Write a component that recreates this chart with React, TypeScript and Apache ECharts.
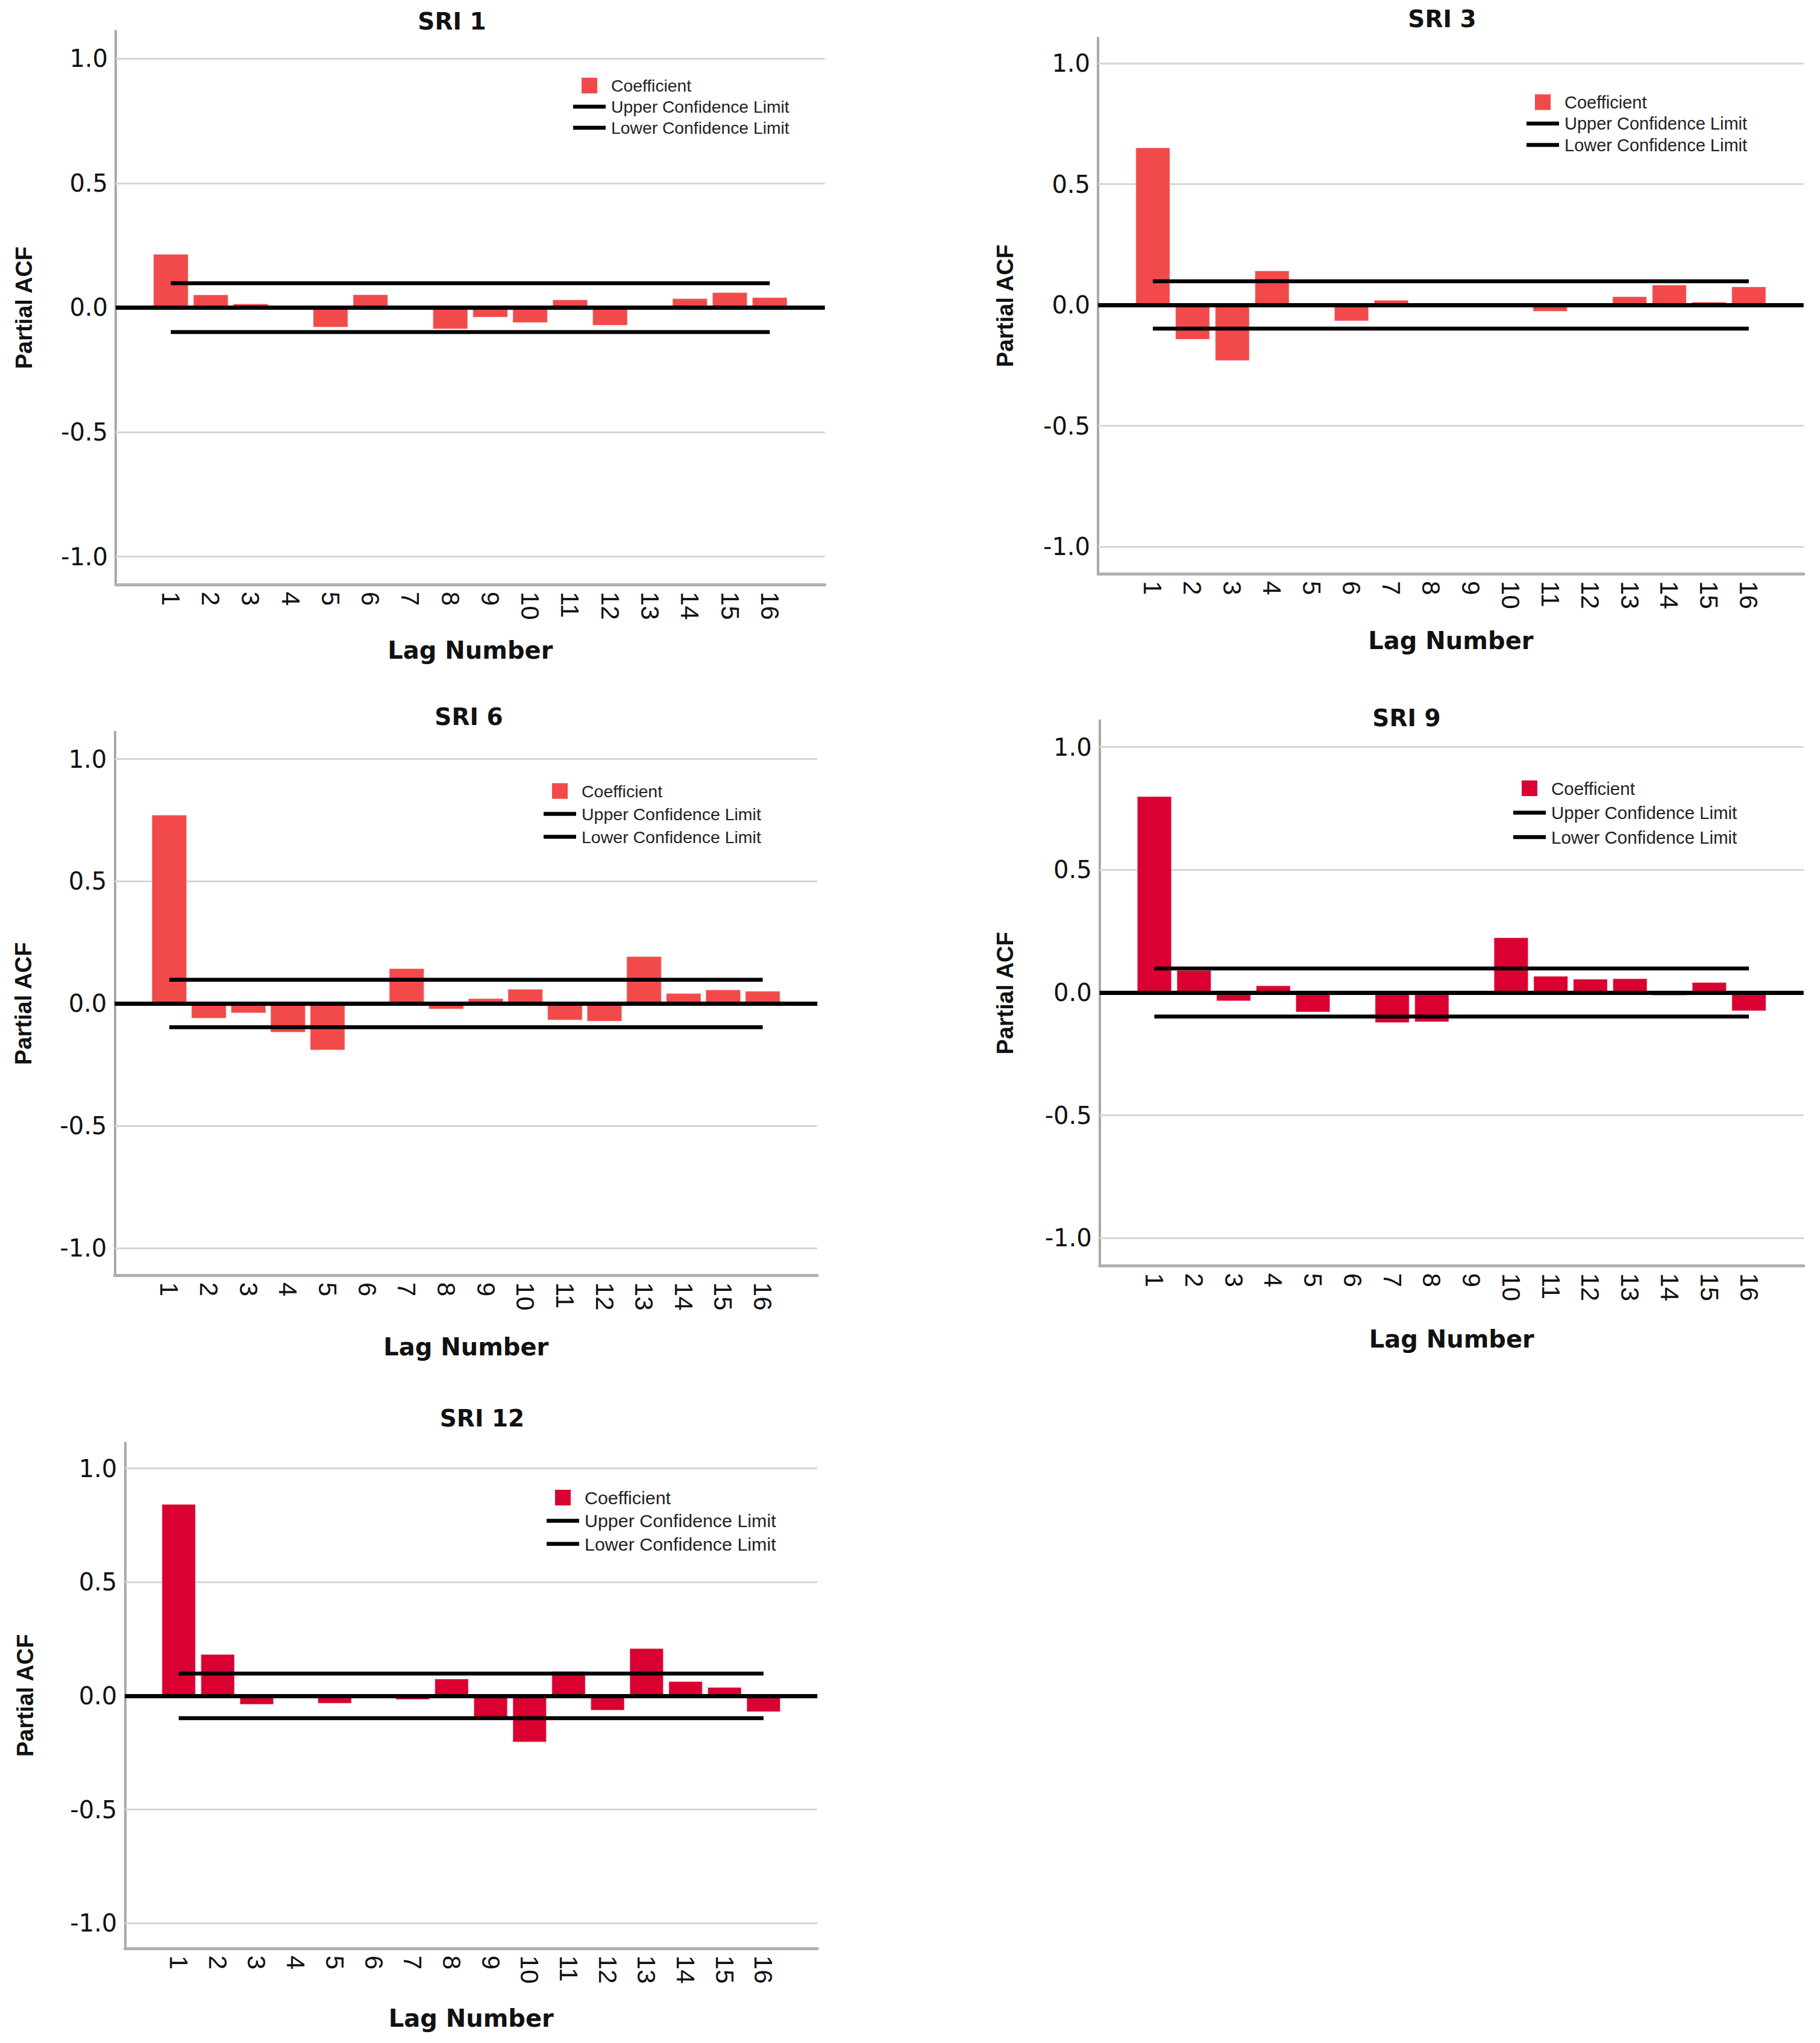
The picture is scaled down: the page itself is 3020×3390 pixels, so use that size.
import React, { useEffect, useRef } from 'react';
import * as echarts from 'echarts';

// ---------- data ----------
const lags = [1, 2, 3, 4, 5, 6, 7, 8, 9, 10, 11, 12, 13, 14, 15, 16];
const yTickValues = [-1, -0.5, 0, 0.5, 1];

const sri1Pacf = [0.216, 0.053, 0.017, 0.010, -0.080, 0.054, 0.009, -0.087, -0.040, -0.062, 0.033, -0.073, 0.003, 0.038, 0.062, 0.042];
const sri3Pacf = [0.652, -0.144, -0.232, 0.143, -0.002, -0.068, 0.021, -0.003, -0.008, -0.008, -0.028, 0.002, 0.036, 0.084, 0.014, 0.077];
const sri6Pacf = [0.773, -0.062, -0.040, -0.119, -0.192, 0.002, 0.145, -0.024, 0.022, 0.060, -0.069, -0.074, 0.194, 0.043, 0.058, 0.052];
const sri9Pacf = [0.800, 0.092, -0.036, 0.029, -0.081, 0.005, -0.124, -0.121, -0.003, 0.225, 0.068, 0.056, 0.058, -0.013, 0.043, -0.076];
const sri12Pacf = [0.844, 0.184, -0.039, 0.003, -0.035, 0.001, -0.018, 0.076, -0.096, -0.205, 0.109, -0.065, 0.210, 0.065, 0.039, -0.072];

const panelTitles = ['SRI 1', 'SRI 3', 'SRI 6', 'SRI 9', 'SRI 12'];
const panelValues = [sri1Pacf, sri3Pacf, sri6Pacf, sri9Pacf, sri12Pacf];
const confidenceLimits = [0.098, 0.098, 0.097, 0.098, 0.098];

// ---------- styles / layout ----------
const LIGHT_RED = '#F24A4A';
const CRIMSON = '#DA0032';
const panelColors = [LIGHT_RED, LIGHT_RED, LIGHT_RED, CRIMSON, CRIMSON];

const layouts = [
  { left: 192, top: 51.5, width: 1176.7, height: 918.3, yMin: -1.112, yMax: 1.111, barWidth: 59,
    titleX: 750, titleTop: 16, legendLeft: 951, legendTop: 128, legendGap: 7, legendFont: 28.3,
    yNameGap: 133, xNameGap: 89 },
  { left: 1822, top: 62.9, width: 1170.8, height: 889.1, yMin: -1.112, yMax: 1.105, barWidth: 58,
    titleX: 2393, titleTop: 12, legendLeft: 2533, legendTop: 155, legendGap: 6.5, legendFont: 29,
    yNameGap: 135, xNameGap: 91 },
  { left: 190.3, top: 1214.6, width: 1165.9, height: 901.2, yMin: -1.111, yMax: 1.111, barWidth: 59,
    titleX: 778, titleTop: 1170, legendLeft: 902, legendTop: 1298, legendGap: 9, legendFont: 28.5,
    yNameGap: 132, xNameGap: 99 },
  { left: 1824.7, top: 1195.5, width: 1168.1, height: 904.9, yMin: -1.113, yMax: 1.108, barWidth: 58,
    titleX: 2334, titleTop: 1172, legendLeft: 2511, legendTop: 1293, legendGap: 10.5, legendFont: 29.5,
    yNameGap: 138, xNameGap: 102 },
  { left: 207.3, top: 2393.9, width: 1148.9, height: 838.9, yMin: -1.11, yMax: 1.113, barWidth: 57,
    titleX: 800, titleTop: 2334, legendLeft: 907, legendTop: 2470, legendGap: 8.4, legendFont: 30.4,
    yNameGap: 146, xNameGap: 96 },
];

const X_MIN = -0.38;
const X_MAX = 17.38;

const SQUARE_ICON = 'path://M0,0h0.01v0.01h-0.01zM14,0h26v26h-26zM53.99,25.99h0.01v0.01h-0.01z';
const LINE_ICON = 'path://M0,0h0.01v0.01h-0.01zM0,9.75h54v6.5h-54zM53.99,25.99h0.01v0.01h-0.01z';

function buildOption() {
  const title: any[] = [];
  const legend: any[] = [];
  const grid: any[] = [];
  const xAxis: any[] = [];
  const yAxis: any[] = [];
  const series: any[] = [];

  panelTitles.forEach((name, i) => {
    const L = layouts[i];
    const values = panelValues[i];
    const conf = confidenceLimits[i];
    const color = panelColors[i];

    title.push({
      text: name,
      left: L.titleX,
      top: L.titleTop,
      textAlign: 'center',
      padding: 0,
      textStyle: { fontFamily: 'DejaVu Sans', fontWeight: 'bold', fontSize: 39, color: '#111' },
    });

    legend.push({
      orient: 'vertical',
      left: L.legendLeft,
      top: L.legendTop,
      padding: 0,
      itemWidth: 54,
      itemHeight: 26,
      itemGap: L.legendGap,
      selectedMode: false,
      itemStyle: { borderWidth: 0 },
      data: [
        { name: `Coefficient#${i}`, icon: SQUARE_ICON },
        { name: `Upper Confidence Limit#${i}`, icon: LINE_ICON },
        { name: `Lower Confidence Limit#${i}`, icon: LINE_ICON },
      ],
      formatter: (n: string) => n.split('#')[0],
      textStyle: {
        fontFamily: 'Liberation Sans',
        fontSize: L.legendFont,
        color: '#222',
        lineHeight: 26,
        padding: [0, 0, 0, 4],
      },
    });

    grid.push({ left: L.left, top: L.top, width: L.width, height: L.height, containLabel: false });

    xAxis.push({
      type: 'value',
      gridIndex: i,
      min: X_MIN,
      max: X_MAX,
      name: 'Lag Number',
      nameLocation: 'middle',
      nameGap: L.xNameGap,
      nameTextStyle: { fontFamily: 'DejaVu Sans', fontWeight: 'bold', fontSize: 40, color: '#111' },
      axisLine: { show: true, onZero: false, lineStyle: { color: '#b0b0b0', width: 5 } },
      axisTick: { show: false },
      splitLine: { show: false },
      axisLabel: {
        customValues: lags,
        rotate: -90,
        margin: 12,
        fontFamily: 'Liberation Sans',
        fontSize: 42,
        color: '#111',
        formatter: (v: number) => String(v),
      },
    });

    yAxis.push({
      type: 'value',
      gridIndex: i,
      min: L.yMin,
      max: L.yMax,
      name: 'Partial ACF',
      nameLocation: 'middle',
      nameGap: L.yNameGap,
      nameTextStyle: { fontFamily: 'Liberation Sans', fontWeight: 'bold', fontSize: 38, color: '#111' },
      axisLine: { show: true, onZero: false, lineStyle: { color: '#a8a8a8', width: 4 } },
      axisTick: { show: false },
      splitLine: { show: false },
      axisLabel: {
        customValues: yTickValues,
        margin: 13,
        fontFamily: 'DejaVu Sans',
        fontSize: 40,
        color: '#111',
        formatter: (v: number) => v.toFixed(1),
      },
    });

    series.push({
      type: 'bar',
      name: `Coefficient#${i}`,
      xAxisIndex: i,
      yAxisIndex: i,
      barWidth: L.barWidth,
      itemStyle: { color, borderColor: 'rgba(255,255,255,0.35)', borderWidth: 1.5 },
      data: lags.map((lag, k) => [lag, values[k]]),
      z: 2,
      markLine: {
        silent: true,
        symbol: 'none',
        z: 1,
        label: { show: false },
        lineStyle: { color: '#d6d6d6', width: 3, type: 'solid' },
        emphasis: { disabled: true },
        data: yTickValues.map((v) => ({ yAxis: v })),
      },
    });

    series.push({
      type: 'line',
      name: `Upper Confidence Limit#${i}`,
      xAxisIndex: i,
      yAxisIndex: i,
      symbol: 'none',
      itemStyle: { color: '#000' },
      lineStyle: { color: '#000', width: 6.5, cap: 'butt' },
      data: lags.map((lag) => [lag, conf]),
      z: 3,
      markLine: {
        silent: true,
        symbol: 'none',
        z: 6,
        label: { show: false },
        lineStyle: { color: '#000', width: 7, type: 'solid' },
        emphasis: { disabled: true },
        data: [{ yAxis: 0 }],
      },
    });

    series.push({
      type: 'line',
      name: `Lower Confidence Limit#${i}`,
      xAxisIndex: i,
      yAxisIndex: i,
      symbol: 'none',
      itemStyle: { color: '#000' },
      lineStyle: { color: '#000', width: 6.5, cap: 'butt' },
      data: lags.map((lag) => [lag, -conf]),
      z: 3,
    });
  });

  return {
    animation: false,
    backgroundColor: '#ffffff',
    title,
    legend,
    grid,
    xAxis,
    yAxis,
    series,
  };
}

export default function App() {
  const ref = useRef<HTMLDivElement>(null);
  useEffect(() => {
    document.body.style.margin = '0';
    const chart = echarts.init(ref.current as HTMLDivElement, null, {
      renderer: 'svg',
      width: 3020,
      height: 3390,
    });
    chart.setOption(buildOption() as any);
    return () => {
      chart.dispose();
    };
  }, []);
  return <div ref={ref} style={{ width: 3020, height: 3390, background: '#fff' }} />;
}
